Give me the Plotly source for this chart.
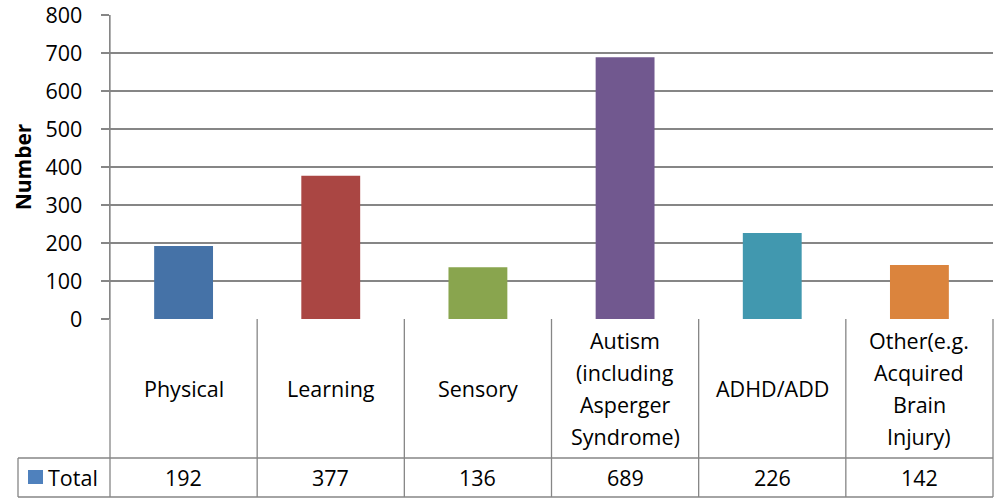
import plotly.graph_objects as go

categories = ["Physical", "Learning", "Sensory",
              "Autism<br>(including<br>Asperger<br>Syndrome)",
              "ADHD/ADD", "Other(e.g.<br>Acquired<br>Brain<br>Injury)"]
totals = [192, 377, 136, 689, 226, 142]
colors = ["#4572A7", "#AA4643", "#89A54E", "#71588F", "#4198AF", "#DB843D"]
series_name = "Total"
y_ticks = [0, 100, 200, 300, 400, 500, 600, 700, 800]

# the page body margin is removed (post_script below), so the figure sits at (0, 0)
W, H = 994, 504
PLOT_LEFT, PLOT_RIGHT, PLOT_TOP, PLOT_BOTTOM = 110, 993, 15, 319   # window pixels
L, R, T, B = PLOT_LEFT, W - PLOT_RIGHT, PLOT_TOP, H - PLOT_BOTTOM
plot_w = PLOT_RIGHT - PLOT_LEFT
plot_h = PLOT_BOTTOM - PLOT_TOP
FONT = "Open Sans"
GRID = "#868686"
FS = 21.5
LINE_PX = 32

def py(px):  # window pixel y -> paper y
    return (PLOT_BOTTOM - px) / plot_h

def pxx(px):  # window pixel x -> paper x
    return (px - PLOT_LEFT) / plot_w

xs = list(range(len(categories)))

fig = go.Figure()
fig.add_trace(go.Bar(x=xs, y=totals, marker=dict(color=colors, line=dict(width=0)),
                     width=0.4, name=series_name, hoverinfo="skip"))

row1_bottom = py(458)
row2_bottom = py(497)
shapes = []
line = dict(color=GRID, width=1.3)
n = len(categories)
for i in range(n + 1):
    x = i / n
    y1 = 1 if i == 0 else 0
    shapes.append(dict(type="line", xref="paper", yref="paper", x0=x, x1=x,
                       y0=row2_bottom, y1=y1, line=line))
for y in (row1_bottom, row2_bottom):
    shapes.append(dict(type="line", xref="paper", yref="paper", x0=pxx(18), x1=1, y0=y, y1=y, line=line))
shapes.append(dict(type="line", xref="paper", yref="paper", x0=pxx(18), x1=pxx(18),
                   y0=row2_bottom, y1=row1_bottom, line=line))
shapes.append(dict(type="rect", xref="paper", yref="paper", x0=pxx(28), x1=pxx(43),
                   y0=py(484), y1=py(470), fillcolor="#4F81BD", line=dict(width=0)))

annotations = []
for i, c in enumerate(categories):
    lines = c.split("<br>")
    k = len(lines)
    for j, t in enumerate(lines):
        cy = 388 + (j - (k - 1) / 2) * LINE_PX
        annotations.append(dict(x=i, xref="x", y=py(cy), yref="paper", text=t, showarrow=False,
                                font=dict(family=FONT, size=FS, color="#000"),
                                xanchor="center", yanchor="middle"))
    annotations.append(dict(x=i, xref="x", y=py(477), yref="paper", text=str(totals[i]), showarrow=False,
                            font=dict(family=FONT, size=FS, color="#000"),
                            xanchor="center", yanchor="middle"))
annotations.append(dict(x=pxx(46), xref="paper", y=py(477), yref="paper", text=series_name,
                        showarrow=False, font=dict(family=FONT, size=FS, color="#000"),
                        xanchor="left", yanchor="middle"))

fig.update_layout(
    width=W, height=H,
    margin=dict(l=L, r=R, t=T, b=B, autoexpand=False),
    paper_bgcolor="white", plot_bgcolor="white",
    showlegend=False,
    shapes=shapes, annotations=annotations,
    xaxis=dict(range=[-0.5, n - 0.5], showticklabels=False, ticks="", showgrid=False,
               zeroline=False, showline=False, fixedrange=True),
    yaxis=dict(range=[0, 800], tickvals=y_ticks, showgrid=True, gridcolor=GRID, gridwidth=1.3,
               ticks="outside", ticklen=8, tickcolor=GRID, tickwidth=1.3,
               showline=True, linecolor=GRID, linewidth=1.3, zeroline=False,
               ticklabelstandoff=14, ticklabeloverflow="allow", fixedrange=True,
               tickfont=dict(family=FONT, size=FS, color="#000"),
               title=dict(text="<b>Number</b>", font=dict(family=FONT, size=21, color="#000"),
                          standoff=8)),
)
fig.write_html("out.html", config={"displayModeBar": False, "staticPlot": True},
               post_script="document.body.style.margin='0';document.body.style.overflow='hidden';")
